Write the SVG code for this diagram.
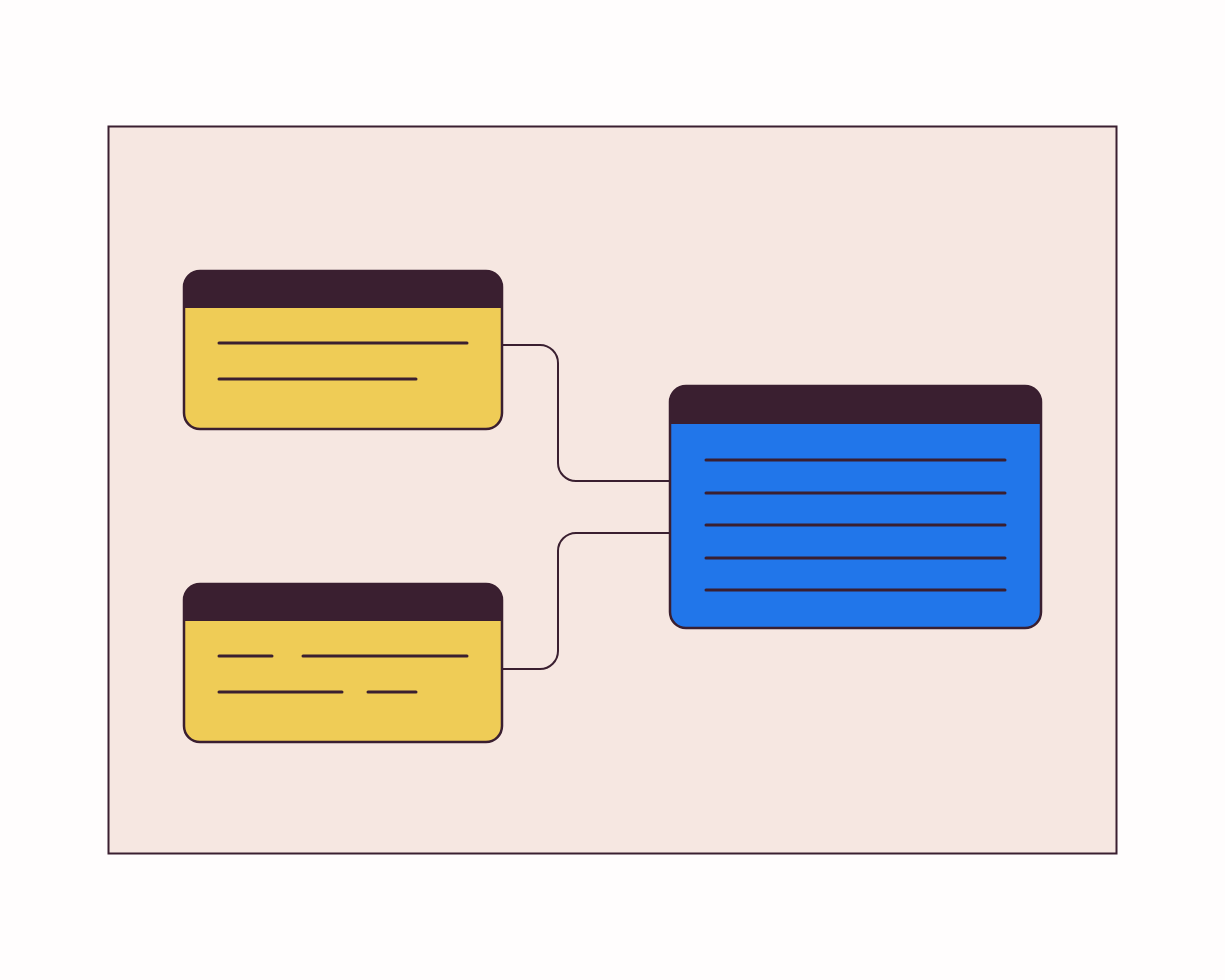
<svg xmlns="http://www.w3.org/2000/svg" width="1225" height="980" viewBox="0 0 1225 980">
<style>
.frame{fill:#f6e7e1;stroke:#3a1f30;stroke-width:2}
.card{stroke:#3a1f30;stroke-width:2.5}
.hdr{fill:#3a1f30}
.ln{stroke:#3a1f30;stroke-width:3;stroke-linecap:round;fill:none}
.conn{stroke:#3a1f30;stroke-width:2;fill:none}
</style>
<rect width="1225" height="980" fill="#fffdfd"/>
<rect class="frame" x="108.5" y="126.5" width="1008" height="727"/>
<g id="connectors">
<path class="conn" d="M502 345 H540 A18 18 0 0 1 558 363 V463 A18 18 0 0 0 576 481 H669"/>
<path class="conn" d="M669 533 H576 A18 18 0 0 0 558 551 V651 A18 18 0 0 1 540 669 H502"/>
</g>
<g id="card-top">
<rect class="card" x="184" y="271" width="318" height="158" rx="16" fill="#efcc56"/>
<path class="hdr" d="M184 308 V287 A16 16 0 0 1 200 271 H486 A16 16 0 0 1 502 287 V308 Z"/>
<line class="ln" x1="219" y1="343" x2="467" y2="343"/>
<line class="ln" x1="219" y1="379" x2="416" y2="379"/>
</g>
<g id="card-bottom">
<rect class="card" x="184" y="584" width="318" height="158" rx="16" fill="#efcc56"/>
<path class="hdr" d="M184 621 V600 A16 16 0 0 1 200 584 H486 A16 16 0 0 1 502 600 V621 Z"/>
<line class="ln" x1="219" y1="656" x2="272" y2="656"/>
<line class="ln" x1="303" y1="656" x2="467" y2="656"/>
<line class="ln" x1="219" y1="692" x2="342" y2="692"/>
<line class="ln" x1="368" y1="692" x2="416" y2="692"/>
</g>
<g id="card-main">
<rect class="card" x="670" y="386" width="371" height="242" rx="16" fill="#2176ea"/>
<path class="hdr" d="M670 424 V402 A16 16 0 0 1 686 386 H1025 A16 16 0 0 1 1041 402 V424 Z"/>
<line class="ln" x1="706" y1="460" x2="1005" y2="460"/>
<line class="ln" x1="706" y1="493" x2="1005" y2="493"/>
<line class="ln" x1="706" y1="525" x2="1005" y2="525"/>
<line class="ln" x1="706" y1="558" x2="1005" y2="558"/>
<line class="ln" x1="706" y1="590" x2="1005" y2="590"/>
</g>
</svg>
